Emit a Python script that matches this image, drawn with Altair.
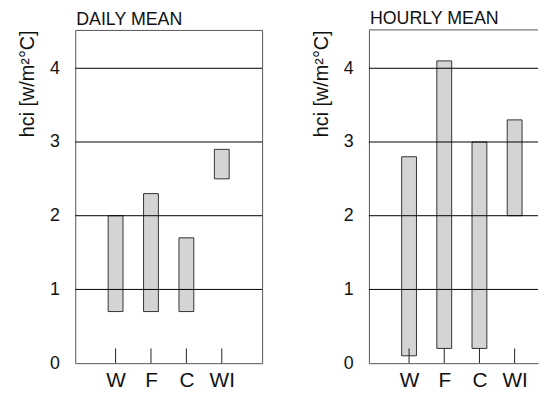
import json
import altair as alt
import pandas as pd

categories = ["W", "F", "C", "WI"]
positions = [1, 2, 3, 4]
daily_low = [0.7, 0.7, 0.7, 2.5]
daily_high = [2.0, 2.3, 1.7, 2.9]
hourly_low = [0.1, 0.2, 0.2, 2.0]
hourly_high = [2.8, 4.1, 3.0, 3.3]
y_ticks = [0, 1, 2, 3, 4]
grid_values = [1, 2, 3, 4]

FONT = "Liberation Sans"
Y_MAX = 4.52
TICK_LEN = 0.2
FRAME = "#555"
label_expr = json.dumps(categories) + "[datum.value - 1]"


def panel(title, low, high, width, x_max, open_right):
    df = pd.DataFrame({"pos": positions, "cat": categories, "low": low, "high": high})
    x = alt.X(
        "pos:Q",
        scale=alt.Scale(domain=[0, x_max], nice=False, zero=False),
        axis=alt.Axis(
            values=positions,
            labelExpr=label_expr,
            ticks=False,
            domain=open_right,
            domainColor=FRAME,
            grid=False,
            title=None,
            labelFontSize=21,
            labelFont=FONT,
            labelColor="#111",
            labelPadding=7,
        ),
    )
    y_scale = alt.Scale(domain=[0, Y_MAX], nice=False, zero=True)
    y_axis = alt.Axis(
        values=y_ticks,
        format="d",
        ticks=False,
        domain=open_right,
        domainColor=FRAME,
        grid=False,
        title="hci [w/m²°C]",
        titleFont=FONT,
        titleFontSize=20,
        titleFontWeight="normal",
        titleColor="#111",
        titleAnchor="end",
        titlePadding=12,
        labelFont=FONT,
        labelFontSize=18,
        labelColor="#111",
        labelPadding=16,
    )
    grid = (
        alt.Chart(pd.DataFrame({"g": grid_values}))
        .mark_rule(color="#000", strokeWidth=1)
        .encode(y=alt.Y("g:Q", scale=y_scale, axis=y_axis))
    )
    bars = (
        alt.Chart(df)
        .mark_bar(size=15, fill="#d4d4d4", stroke="#333", strokeWidth=1)
        .encode(
            x=x,
            y=alt.Y("low:Q", scale=y_scale, axis=y_axis),
            y2="high:Q",
        )
    )
    ticks = (
        alt.Chart(df)
        .mark_rule(color="#222", strokeWidth=1)
        .encode(
            x=x,
            y=alt.datum(0, scale=y_scale),
            y2=alt.datum(TICK_LEN),
        )
    )
    layers = [bars, grid, ticks]
    props = dict(
        width=width,
        height=337,
        title=alt.TitleParams(
            title,
            anchor="start",
            frame="group",
            font=FONT,
            fontSize=18,
            fontWeight="normal",
            color="#111",
            offset=1,
            dx=1,
        ),
    )
    if open_right:
        top = (
            alt.Chart(pd.DataFrame({"t": [Y_MAX]}))
            .mark_rule(color=FRAME, strokeWidth=1)
            .encode(y=alt.Y("t:Q", scale=y_scale, axis=y_axis))
        )
        layers.append(top)
        props["view"] = alt.ViewBackground(stroke="transparent")
    else:
        props["view"] = alt.ViewBackground(stroke=FRAME, strokeWidth=1)
    return alt.layer(*layers).properties(**props)


chart = (
    alt.hconcat(
        panel("DAILY MEAN", daily_low, daily_high, 189, 5, False),
        panel("HOURLY MEAN", hourly_low, hourly_high, 171, 171 / 37.8, True),
        spacing=48,
    )
    .configure_view(stroke=FRAME, strokeWidth=1)
    .configure(background="white", padding={"left": 9, "top": 0, "right": 0, "bottom": 0})
)

chart.save("out.html", embed_options={"renderer": "svg", "actions": False})
